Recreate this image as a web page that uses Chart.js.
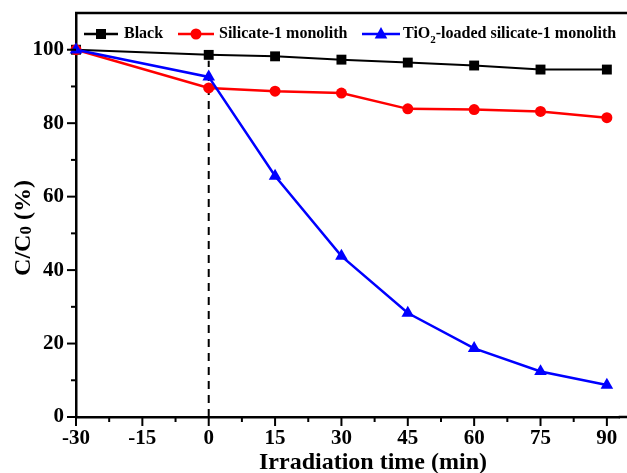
<!DOCTYPE html>
<html>
<head>
<meta charset="utf-8">
<script src="https://cdn.jsdelivr.net/npm/chart.js@4"></script>
<style>
  body { margin: 0; background: #fff; }
  canvas { display: block; }
</style>
</head>
<body>
<canvas id="chart" width="627" height="473"></canvas>
<script>
  const times = [-30, 0, 15, 30, 45, 60, 75, 90];
  const blackValues = [100, 98.6, 98.2, 97.3, 96.5, 95.7, 94.6, 94.6];
  const silicateValues = [100, 89.6, 88.7, 88.2, 83.9, 83.7, 83.2, 81.5];
  const tio2Values = [100, 92.6, 65.6, 43.8, 28.3, 18.7, 12.4, 8.7];
  const xTicks = [-30, -15, 0, 15, 30, 45, 60, 75, 90];
  const yTicks = [0, 20, 40, 60, 80, 100];
  const dashedLine = [{ x: 0, y: 0 }, { x: 0, y: 97 }];

  const FONT = "'Liberation Serif', 'Times New Roman', serif";

  function toPoints(values) {
    return values.map((v, i) => ({ x: times[i], y: v }));
  }

  function drawMarker(ctx, type, x, y, color) {
    ctx.save();
    ctx.fillStyle = color;
    ctx.beginPath();
    if (type === "rect") {
      ctx.rect(x - 5, y - 5, 10, 10);
    } else if (type === "circle") {
      ctx.arc(x, y, 5.5, 0, Math.PI * 2);
    } else {
      ctx.moveTo(x, y - 7);
      ctx.lineTo(x + 6.3, y + 4.5);
      ctx.lineTo(x - 6.3, y + 4.5);
      ctx.closePath();
    }
    ctx.fill();
    ctx.restore();
  }

  function noPadding(scale) {
    scale.paddingTop = 0;
    scale.paddingBottom = 0;
    scale.paddingLeft = 0;
    scale.paddingRight = 0;
  }

  // ticks, frame, legend and axis titles
  const decorPlugin = {
    id: "decor",
    afterDraw(chart) {
      const ctx = chart.ctx;
      const area = chart.chartArea;
      const xs = chart.scales.x;
      const ys = chart.scales.y;
      ctx.save();
      ctx.strokeStyle = "#000";

      // top frame, and bottom axis carried on to the picture edge
      ctx.lineWidth = 2.5;
      ctx.beginPath();
      ctx.moveTo(area.left - 1, area.top);
      ctx.lineTo(chart.width, area.top);
      ctx.moveTo(area.right - 1, area.bottom);
      ctx.lineTo(chart.width, area.bottom);
      ctx.stroke();

      // x ticks (major + minor)
      ctx.lineWidth = 2;
      for (let v = -30; v <= 90; v += 7.5) {
        const px = xs.getPixelForValue(v);
        const len = v % 15 === 0 ? 9 : 5;
        ctx.beginPath();
        ctx.moveTo(px, area.bottom);
        ctx.lineTo(px, area.bottom + len);
        ctx.stroke();
      }
      // y ticks
      for (let v = 0; v <= 100; v += 10) {
        const py = ys.getPixelForValue(v);
        const len = v % 20 === 0 ? 9 : 5;
        ctx.beginPath();
        ctx.moveTo(area.left, py);
        ctx.lineTo(area.left - len, py);
        ctx.stroke();
      }

      // legend
      const ly = 34;
      const items = [
        { x1: 84, x2: 118, mx: 101, tx: 124, color: "#000", type: "rect" },
        { x1: 178, x2: 214, mx: 196, tx: 219, color: "#ff0000", type: "circle" },
        { x1: 362, x2: 400, mx: 381, tx: 403, color: "#0000ff", type: "triangle" },
      ];
      items.forEach((it) => {
        ctx.strokeStyle = it.color;
        ctx.lineWidth = 2.5;
        ctx.beginPath();
        ctx.moveTo(it.x1, ly);
        ctx.lineTo(it.x2, ly);
        ctx.stroke();
        drawMarker(ctx, it.type, it.mx, ly, it.color);
      });
      ctx.fillStyle = "#000";
      ctx.textBaseline = "middle";
      ctx.textAlign = "left";
      ctx.font = "bold 16px " + FONT;
      ctx.fillText("Black", items[0].tx, ly);
      ctx.fillText("Silicate-1 monolith", items[1].tx, ly);
      let tx = items[2].tx;
      ctx.fillText("TiO", tx, ly);
      tx += ctx.measureText("TiO").width;
      ctx.font = "bold 11px " + FONT;
      ctx.fillText("2", tx, ly + 6);
      tx += ctx.measureText("2").width;
      ctx.font = "bold 16px " + FONT;
      ctx.fillText("-loaded silicate-1 monolith", tx, ly);

      // x title
      ctx.font = "bold 24px " + FONT;
      ctx.textAlign = "center";
      ctx.textBaseline = "alphabetic";
      ctx.fillText("Irradiation time (min)", 373, 469);

      // y title
      ctx.translate(30, 228);
      ctx.rotate(-Math.PI / 2);
      ctx.textAlign = "left";
      const p1 = "C/C", p2 = "0", p3 = " (%)";
      ctx.font = "bold 24px " + FONT;
      const w1 = ctx.measureText(p1).width;
      const w3 = ctx.measureText(p3).width;
      ctx.font = "bold 17px " + FONT;
      const w2 = ctx.measureText(p2).width;
      let sx = -(w1 + w2 + w3) / 2;
      ctx.font = "bold 24px " + FONT;
      ctx.fillText(p1, sx, 0);
      sx += w1;
      ctx.font = "bold 17px " + FONT;
      ctx.fillText(p2, sx, 1);
      sx += w2;
      ctx.font = "bold 24px " + FONT;
      ctx.fillText(p3, sx, 0);

      ctx.restore();
    },
  };

  const tickFont = { family: FONT, size: 21, weight: "bold" };

  new Chart(document.getElementById("chart"), {
    type: "line",
    data: {
      datasets: [
        {
          label: "TiO2-loaded silicate-1 monolith",
          data: toPoints(tio2Values),
          borderColor: "#0000ff",
          backgroundColor: "#0000ff",
          borderWidth: 2.5,
          pointStyle: "triangle",
          pointRadius: 7.3,
          pointBorderWidth: 0,
          order: 0,
        },
        {
          label: "Silicate-1 monolith",
          data: toPoints(silicateValues),
          borderColor: "#ff0000",
          backgroundColor: "#ff0000",
          borderWidth: 2.5,
          pointStyle: "circle",
          pointRadius: 5.5,
          pointBorderWidth: 0,
          order: 1,
        },
        {
          label: "Black",
          data: toPoints(blackValues),
          borderColor: "#000",
          backgroundColor: "#000",
          borderWidth: 2,
          pointStyle: "rect",
          pointRadius: 7,
          pointBorderWidth: 0,
          order: 2,
        },
        {
          label: "start",
          data: dashedLine,
          borderColor: "#000",
          borderWidth: 2,
          borderDash: [8, 6],
          pointRadius: 0,
          order: 3,
        },
      ],
    },
    options: {
      responsive: false,
      animation: false,
      clip: false,
      layout: { padding: { top: 13, right: 0, left: 0, bottom: 0 } },
      plugins: {
        legend: { display: false },
        tooltip: { enabled: false },
      },
      elements: { line: { tension: 0 } },
      scales: {
        x: {
          type: "linear",
          min: -30,
          max: 92.9,
          afterBuildTicks(scale) {
            scale.ticks = xTicks.map((v) => ({ value: v }));
          },
          afterFit(scale) {
            scale.height = 56;
            noPadding(scale);
          },
          grid: { display: false },
          border: { display: true, color: "#000", width: 2.5 },
          ticks: { font: tickFont, color: "#000", padding: 1, maxRotation: 0 },
        },
        y: {
          type: "linear",
          min: 0,
          max: 110,
          afterBuildTicks(scale) {
            scale.ticks = yTicks.map((v) => ({ value: v }));
          },
          afterFit(scale) {
            scale.width = 76;
            noPadding(scale);
          },
          grid: { display: false },
          border: { display: true, color: "#000", width: 2.5 },
          ticks: { font: tickFont, color: "#000", padding: 4 },
        },
      },
    },
    plugins: [decorPlugin],
  });
</script>
</body>
</html>
